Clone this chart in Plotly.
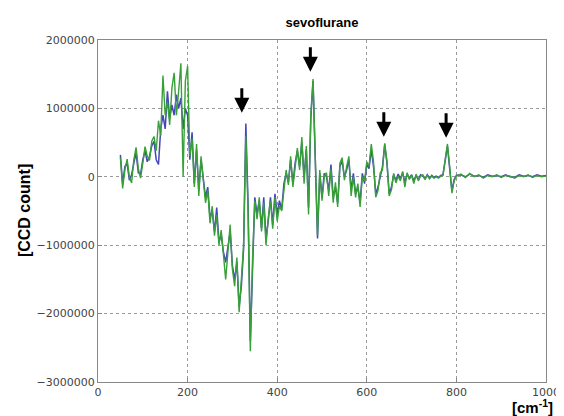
import plotly.graph_objects as go

# wavenumber grid [cm^-1]
wavenumber = list(range(50, 805, 5)) + list(range(810, 1010, 10))

# CCD counts, in thousands
green_k = [
    280, -170, 100, 260, 0, -90, 250, 430, 120, -20,
    200, 440, 300, 240, 520, 590, 380, 820, 600, 1480,
    900, 1100, 760, 1300, 1520, 900, 1250, 1660, 0, 1400,
    1620, 300, 560, -150, 480, -280, 300, -80, -380, -200,
    -680, -430, -860, -560, -1000, -780, -1150, -1500, -1100, -700,
    -1350, -1600, -1180, -1980, -1500, -1000, 600, -500, -2550, -1200,
    -350, -620, -300, -800, -380, -1000, -600, -350, -760, -300,
    -650, -420, -500, -150, 100, -120, 300, -150, 150, 420,
    100, 580, -100, 450, -550, 900, 1430, 200, -850, 100,
    -350, 0, 60, -280, 120, -380, -80, -440, 200, 280,
    -50, 150, 300, -280, 0, -300, -100, -440, 0, -60,
    220, 150, 480, 220, -300, -200, 60, 100, 490, 230,
    -280, -190, 50, -90, 10, -60, 80, -150, 60, -40,
    20, -100, 40, -60, 10, 30, -40, 20, -30, 10,
    -20, 0, -20, 10, 20, 250, 480, 150, -240, -60,
    10,
    40, -10, 50, 0, 30, -20, 20, 0, 30, -10,
    20, 10, -20, 20, 0, 30, -10, 20, 0, 10,
]

blue_k = [
    320, -100, 150, 200, -50, 30, 200, 350, 60, 40,
    250, 380, 220, 300, 450, 520, 250, 180, 700, 900,
    700, 1250, 850, 1050, 900, 1200, 1000, 1150, 700, 1000,
    900, 250, 650, -100, 400, -200, 250, -50, -300, -150,
    -600, -500, -800, -450, -950, -850, -1100, -1250, -1000, -800,
    -1300, -1500, -1250, -1900, -1600, -1050, 780, -400, -2400, -1300,
    -300, -550, -350, -750, -300, -900, -650, -300, -700, -250,
    -550, -350, -480, -100, 50, -80, 250, -100, 200, 380,
    150, 500, 0, 400, -450, 850, 1400, 250, -900, 50,
    -300, 50, 0, -200, 180, -300, -150, -380, 150, 230,
    0, 100, 250, -200, 50, -250, -150, -380, 50, -100,
    180, 120, 400, 150, -250, -150, 0, 150, 470, 200,
    -250, -150, 30, -50, 40, -30, 60, -80, 40, -20,
    30, -60, 20, -40, 30, 10, -30, 30, -20, 20,
    -10, 10, -10, 20, 30, 230, 450, 120, -200, -40,
    20,
    30, 0, 40, 10, 20, -10, 30, 10, 20, 0,
    30, 0, -10, 30, 10, 20, 0, 30, 10, 20,
]

# peak markers (arrows): wavenumber and arrow-tip count
arrow_x = [321, 474, 638, 777]
arrow_y = [936000, 1535000, 585000, 570000]

y_ticks = [-3000000, -2000000, -1000000, 0, 1000000, 2000000]
x_ticks = [0, 200, 400, 600, 800, 1000]

fig = go.Figure()
fig.add_trace(go.Scatter(
    x=wavenumber, y=[v * 1000 for v in blue_k], mode="lines",
    line=dict(color="#4646b8", width=1.5), showlegend=False,
))
fig.add_trace(go.Scatter(
    x=wavenumber, y=[v * 1000 for v in green_k], mode="lines",
    line=dict(color="#38a038", width=1.4), showlegend=False,
))

for ax_x, ax_y in zip(arrow_x, arrow_y):
    fig.add_annotation(
        x=ax_x, y=ax_y, xref="x", yref="y", text="", showarrow=True,
        ax=0, ay=-26, arrowhead=2, arrowsize=1, arrowwidth=3,
        arrowcolor="black",
    )

fig.add_annotation(
    text="[CCD count]", xref="paper", yref="paper", x=-0.165, y=0.5,
    textangle=-90, showarrow=False, xanchor="center", yanchor="middle",
    font=dict(family="Liberation Sans, Arial", size=16, color="black", weight="bold"),
)
fig.add_annotation(
    text="[cm<sup>-1</sup>]", xref="paper", yref="paper", x=1.02, y=-0.071,
    showarrow=False, xanchor="right", yanchor="middle",
    font=dict(family="Liberation Sans, Arial", size=15, color="black", weight="bold"),
)

axis_common = dict(
    showline=True, mirror=True, linecolor="#888888", linewidth=1,
    showgrid=True, gridcolor="#9a9a9a", griddash="dot", gridwidth=1,
    ticks="inside", ticklen=4, tickcolor="#888888",
    tickfont=dict(family="DejaVu Sans", size=11, color="#444444"),
    zeroline=False,
)

fig.update_xaxes(range=[0, 1000], tickvals=x_ticks, **axis_common)
fig.update_yaxes(range=[-3000000, 2000000], tickvals=y_ticks, tickformat="d", **axis_common)

fig.update_layout(
    width=564, height=408,
    margin=dict(l=90, r=18, t=32, b=34),
    paper_bgcolor="white", plot_bgcolor="white",
    title=dict(
        text="sevoflurane", xref="paper", x=0.5, xanchor="center",
        y=0.965, yanchor="middle",
        font=dict(family="Liberation Sans, Arial", size=13, color="black", weight="bold"),
    ),
)

fig.write_html("out.html")
